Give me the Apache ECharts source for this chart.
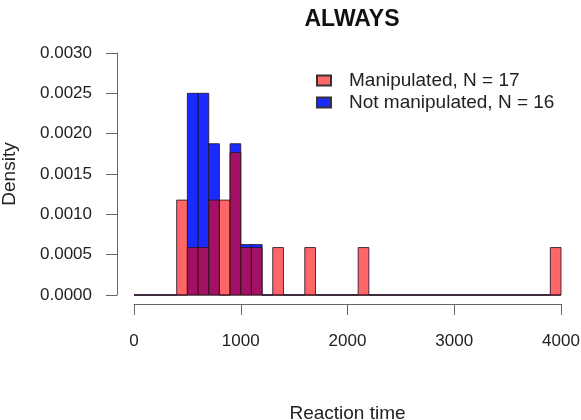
<!DOCTYPE html>
<html>
	<head>
		<meta charset="utf-8" />
		<title>ALWAYS</title>
		<script src="https://cdn.jsdelivr.net/npm/echarts@6/dist/echarts.min.js" type="text/javascript" charset="utf-8"></script>
		<style type="text/css">
			html, body { margin: 0; padding: 0; background: #fff; }
			#main { width: 581px; height: 420px; }
		</style>
	</head>
	<body>
		<div id="main"></div>
		<script type="text/javascript">
			// histogram breaks: 100 ms bins from 0 to 4000
			var binWidth = 100;
			var binCount = 40;
			// counts per bin
			var manipCounts = [0, 0, 0, 0, 2, 1, 1, 2, 2, 3,
				1, 1, 0, 1, 0, 0, 1, 0, 0, 0,
				0, 1, 0, 0, 0, 0, 0, 0, 0, 0,
				0, 0, 0, 0, 0, 0, 0, 0, 0, 1];
			var notManipCounts = [0, 0, 0, 0, 0, 4, 4, 3, 0, 3,
				1, 1, 0, 0, 0, 0, 0, 0, 0, 0,
				0, 0, 0, 0, 0, 0, 0, 0, 0, 0,
				0, 0, 0, 0, 0, 0, 0, 0, 0, 0];
			var manipN = 17;
			var notManipN = 16;
			var legendNames = ['Manipulated, N = 17', 'Not manipulated, N = 16'];
			var yTicks = [0, 0.0005, 0.001, 0.0015, 0.002, 0.0025, 0.003];
			var xTicks = [0, 1000, 2000, 3000, 4000];

			// turn counts into density rows [start, end, density]
			function toDensity(counts, n) {
				var rows = [];
				for (var i = 0; i < binCount; i++) {
					rows.push([i * binWidth, (i + 1) * binWidth, counts[i] / (n * binWidth)]);
				}
				return rows;
			}

			function binRenderer(fill) {
				return function(params, api) {
					var top = api.coord([api.value(0), api.value(2)]);
					var bottom = api.coord([api.value(1), 0]);
					return {
						type: 'rect',
						shape: { x: top[0], y: top[1], width: bottom[0] - top[0], height: bottom[1] - top[1] },
						style: { fill: fill, stroke: 'rgba(40,20,40,0.85)', lineWidth: 1 }
					};
				};
			}

			var font = 'Liberation Sans, Arial, sans-serif';
			var myChart = echarts.init(document.getElementById('main'));
			var option = {
				animation: false,
				textStyle: { fontFamily: font },
				title: {
					text: 'ALWAYS',
					left: 347,
					top: 3,
					textAlign: 'center',
					textStyle: { fontSize: 23, fontWeight: 'bold', color: '#111', fontFamily: font }
				},
				legend: {
					data: legendNames,
					orient: 'vertical',
					left: 311,
					top: 66,
					itemWidth: 14,
					itemHeight: 10,
					itemGap: 3,
					icon: 'rect',
					textStyle: { fontSize: 19, color: '#222', fontFamily: font, padding: [0, 0, 0, 13] }
				},
				grid: { left: 134, right: 20, top: 53, bottom: 125, outerBoundsMode: 'none', containLabel: false },
				xAxis: {
					type: 'value',
					min: 0,
					max: 4000,
					interval: 1000,
					offset: 9,
					name: 'Reaction time',
					nameLocation: 'middle',
					nameGap: 100,
					nameTextStyle: { fontSize: 19, color: '#222', fontFamily: font },
					axisLine: { show: true, onZero: false, lineStyle: { color: '#666', width: 1 } },
					axisTick: { show: true, length: 11, lineStyle: { color: '#666' } },
					axisLabel: {
						fontSize: 17, color: '#222', margin: 29,
						formatter: function(v) { return xTicks.indexOf(v) >= 0 ? String(v) : ''; }
					},
					splitLine: { show: false }
				},
				yAxis: {
					type: 'value',
					min: 0,
					max: 0.003,
					interval: 0.0005,
					offset: 17,
					name: 'Density',
					nameLocation: 'middle',
					nameGap: 98,
					nameTextStyle: { fontSize: 19, color: '#222', fontFamily: font },
					axisLine: { show: true, onZero: false, lineStyle: { color: '#666', width: 1 } },
					axisTick: { show: true, length: 11, lineStyle: { color: '#666' } },
					axisLabel: {
						fontSize: 17, color: '#222', margin: 25,
						formatter: function(v) {
							for (var i = 0; i < yTicks.length; i++) {
								if (Math.abs(yTicks[i] - v) < 1e-9) return yTicks[i].toFixed(4);
							}
							return '';
						}
					},
					splitLine: { show: false }
				},
				series: [{
					name: legendNames[1],
					type: 'custom',
					renderItem: binRenderer('rgba(0,20,255,0.9)'),
					itemStyle: { color: 'rgba(0,20,255,0.9)', borderColor: '#333', borderWidth: 1 },
					encode: { x: [0, 1], y: 2 },
					data: toDensity(notManipCounts, notManipN),
					z: 2
				}, {
					name: legendNames[0],
					type: 'custom',
					renderItem: binRenderer('rgba(255,0,0,0.6)'),
					itemStyle: { color: 'rgba(255,0,0,0.6)', borderColor: '#333', borderWidth: 1 },
					encode: { x: [0, 1], y: 2 },
					data: toDensity(manipCounts, manipN),
					z: 3
				}]
			};
			myChart.setOption(option);
		</script>
	</body>
</html>
